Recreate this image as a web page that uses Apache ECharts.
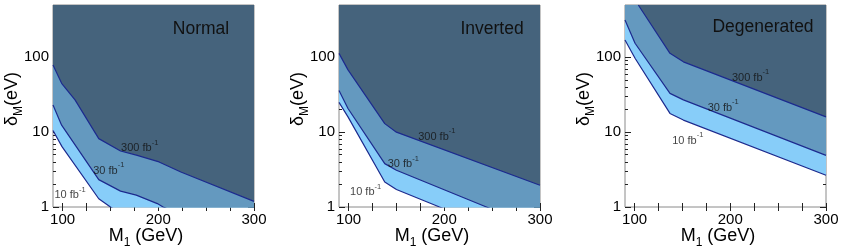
<!DOCTYPE html>
<html><head><meta charset="utf-8">
<script src="https://cdn.jsdelivr.net/npm/echarts@6/dist/echarts.min.js"></script>
<style>html,body{margin:0;padding:0;background:#fff}#c{width:845px;height:249px}</style>
</head><body><div id="c"></div>
<script>
// ---- data ----
const panelNames = ['Normal', 'Inverted', 'Degenerated'];
const xTickValues = [100, 125, 150, 175, 200, 225, 250, 275, 300];
const xLabelValues = [100, 200, 300];
const yMajorValues = [1, 10, 100];
const yMinorValues = [2, 3, 4, 5, 6, 7, 8, 9, 20, 30, 40, 50, 60, 70, 80, 90, 200, 300, 400, 500];
const lumiLabels = ['300 fb', '30 fb', '10 fb'];

// Normal hierarchy
const normal300 = [[90, 79], [99, 45], [113, 27], [137.8, 8.2], [160.6, 5.6], [178, 4.9], [200.8, 4.0], [223.6, 2.93], [300, 1.19]];
const normal30 = [[90, 23], [99, 12.4], [137.8, 2.32], [160.6, 1.63], [177, 1.44], [199, 1.11], [205, 1.0], [300, 0.3]];
const normal10 = [[90, 10.5], [99.4, 6.4], [137.8, 1.29], [150, 1.0], [180, 0.55], [300, 0.1]];
// Inverted hierarchy
const inverted300 = [[90, 113], [99.4, 68], [137.8, 13], [150, 10], [300, 1.95]];
const inverted30 = [[90, 36], [99.4, 20.7], [137.8, 3.8], [150, 3.1], [244, 1.0], [300, 0.51]];
const inverted10 = [[90, 25], [99.4, 16], [137.8, 2.16], [150, 1.71], [195, 1.0], [300, 0.3]];
// Degenerated
const degen300 = [[103.9, 500], [137, 113], [151, 87], [300, 16]];
const degen30 = [[90, 316], [100.5, 154], [137, 33], [151, 27], [300, 4.9]];
const degen10 = [[90, 170], [100.5, 97], [137, 17.8], [151, 14.5], [300, 2.66]];

// annotation anchors (data coords) for the luminosity labels: [300, 30, 10]
const normalLabelAt = [[180.6, 6.5], [148.3, 3.25], [107.8, 1.54]];
const invertedLabelAt = [[192.2, 9.3], [157.2, 4.0], [117.8, 1.67]];
const degenLabelAt = [[221.2, 57], [192.6, 22.7], [155.6, 8.2]];

const curves = [[normal10, normal30, normal300], [inverted10, inverted30, inverted300], [degen10, degen30, degen300]];
const labelAt = [normalLabelAt, invertedLabelAt, degenLabelAt];

// ---- layout / styles ----
const FONT = '"Liberation Sans", Arial, Helvetica, sans-serif';
const gridLeft = [53, 339, 625];
const GW = 201, GT = 5, GH = 202;
const XMIN = 90, XMAX = 300, YMIN = 1, YMAX = 500;
const fills = ['#87cdf9', '#6499bf', '#45637c'];
const lineColor = '#1c2a8e';
const tickColor = '#222';
const panelTextPos = [[201, 29], [492, 29], [763, 27]];

const chart = echarts.init(document.getElementById('c'), null, {renderer: 'canvas'});
const grid = [], xAxis = [], yAxis = [], series = [], graphic = [];
const lg = v => Math.log10(v);

for (let i = 0; i < 3; i++) {
  grid.push({left: gridLeft[i], top: GT, width: GW, height: GH, show: true,
    borderColor: '#8a8a8a', borderWidth: 1, backgroundColor: '#fff', containLabel: false});
  const xi = xAxis.length;
  xAxis.push({type: 'value', gridIndex: i, position: 'bottom', min: XMIN, max: XMAX,
    axisLine: {show: false}, splitLine: {show: false},
    axisTick: {show: true, inside: true, length: 4, lineStyle: {color: tickColor, width: 1}, customValues: xTickValues},
    axisLabel: {show: true, customValues: xLabelValues, fontSize: 15, color: '#000', fontFamily: FONT, margin: 5}});
  xAxis.push({type: 'value', gridIndex: i, position: 'top', min: XMIN, max: XMAX,
    axisLine: {show: false}, splitLine: {show: false},
    axisTick: {show: true, inside: true, length: 4, lineStyle: {color: tickColor, width: 1}, customValues: xTickValues},
    axisLabel: {show: false}});
  const yi = yAxis.length;
  yAxis.push({type: 'log', logBase: 10, gridIndex: i, min: YMIN, max: YMAX, show: false,
    axisLine: {show: false}, splitLine: {show: false}});
  const mk = (pos, vals, len, lab) => ({type: 'value', gridIndex: i, position: pos, min: 0, max: lg(YMAX),
    axisLine: {show: false}, splitLine: {show: false},
    axisTick: {show: true, inside: true, length: len, lineStyle: {color: tickColor, width: 1}, customValues: vals.map(lg)},
    axisLabel: lab ? {show: true, customValues: vals.map(lg), fontSize: 15, color: '#000', fontFamily: FONT, margin: 4,
      formatter: v => String(Math.round(Math.pow(10, v)))} : {show: false}});
  yAxis.push(mk('left', yMajorValues, 6, true));
  yAxis.push(mk('left', yMinorValues, 3, false));
  yAxis.push(mk('right', yMajorValues, 6, false));
  yAxis.push(mk('right', yMinorValues, 3, false));

  curves[i].forEach((d, k) => {
    series.push({type: 'line', xAxisIndex: xi, yAxisIndex: yi, data: d, symbol: 'none', clip: true,
      smooth: false, silent: true, animation: false, z: 2 + k,
      lineStyle: {color: lineColor, width: 1.2},
      areaStyle: {origin: YMAX, color: fills[k], opacity: 1}});
  });
  series.push({type: 'scatter', xAxisIndex: xi, yAxisIndex: yi, symbolSize: 0, silent: true, animation: false, z: 10,
    data: labelAt[i].map((p, k) => ({value: p, name: lumiLabels[k]})),
    label: {show: true, position: 'inside',
      formatter: p => '{a|' + p.name + '}{s|-1}',
      rich: {a: {fontSize: 11, fontFamily: FONT, color: '#111', lineHeight: 15, verticalAlign: 'bottom'},
             s: {fontSize: 7.5, fontFamily: FONT, color: '#111', lineHeight: 15, verticalAlign: 'top'}}}});

  graphic.push({type: 'text', x: panelTextPos[i][0], y: panelTextPos[i][1], silent: true, z: 20,
    style: {text: panelNames[i], fontSize: 17.5, fontFamily: FONT, fill: '#111', align: 'center', verticalAlign: 'middle'}});
  graphic.push({type: 'text', x: gridLeft[i] + 93, y: 238, silent: true,
    style: {text: '{a|M}{b|1}{a| (GeV)}', align: 'center', verticalAlign: 'middle',
      rich: {a: {fontSize: 18, fontFamily: FONT, fill: '#000', lineHeight: 22, verticalAlign: 'top'},
             b: {fontSize: 12, fontFamily: FONT, fill: '#000', lineHeight: 22, verticalAlign: 'bottom'}}}});
  graphic.push({type: 'text', x: gridLeft[i] - 39, y: 99, rotation: Math.PI / 2, silent: true,
    style: {text: '{a|δ}{b|M}{a|(eV)}', align: 'center', verticalAlign: 'middle',
      rich: {a: {fontSize: 18, fontFamily: FONT, fill: '#000', lineHeight: 22, verticalAlign: 'top'},
             b: {fontSize: 12, fontFamily: FONT, fill: '#000', lineHeight: 22, verticalAlign: 'bottom'}}}});
}

chart.setOption({animation: false, backgroundColor: '#fff', grid, xAxis, yAxis, series, graphic});
</script></body></html>
